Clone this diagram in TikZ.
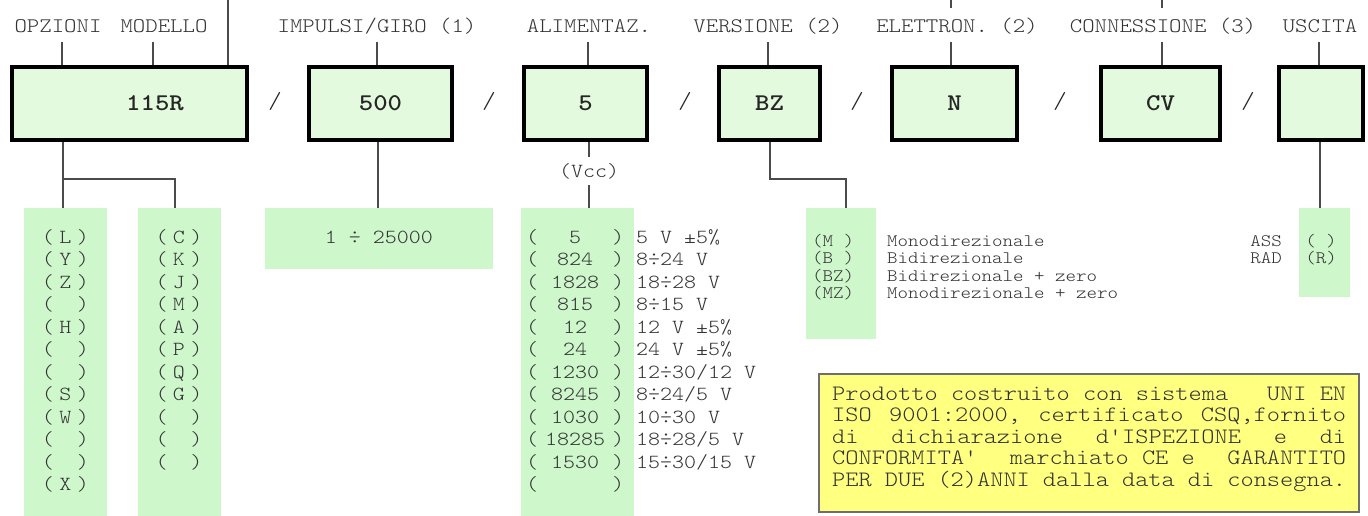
\documentclass[tikz,border=0pt]{standalone}
\usepackage{fontspec}
\newfontfamily\cour{lmmonolt10-regular}[Extension=.otf, BoldFont=lmmonolt10-bold, FakeStretch=1.143]
\definecolor{boxfill}{RGB}{227,250,222}
\definecolor{panelfill}{RGB}{206,247,203}
\definecolor{noteyel}{RGB}{255,255,128}
\definecolor{notebd}{RGB}{110,110,110}
\definecolor{txtgray}{RGB}{50,50,50}
\definecolor{linegray}{RGB}{75,75,75}
\newcommand\myfs[2]{\cour\fontsize{#1}{#2}\selectfont}
\begin{document}
\begin{tikzpicture}[x=1pt,y=-1pt,
  lbl/.style={font=\myfs{20.7}{20.7}, text=txtgray, inner sep=0pt, anchor=base},
  codebox/.style={draw=black, line width=4pt, fill=boxfill, minimum height=73pt, inner sep=0pt, font=\myfs{24}{24}\bfseries, text=black!85},
  slashtxt/.style={font=\myfs{23}{23}, text=black!85, inner sep=0pt},
  panel/.style={fill=panelfill, inner sep=0pt, anchor=north west},
  conn/.style={draw=linegray, line width=1.3pt},
  row/.style={font=\myfs{20}{20}, text=txtgray, inner sep=0pt},
  srow/.style={font=\myfs{17.5}{17.5}, text=txtgray, inner sep=0pt},
]
\useasboundingbox (0,0) rectangle (1368,516);
\fill[white] (0,0) rectangle (1368,516);

% ---- code boxes
\node[codebox, minimum width=235pt] (box1) at (129.5,103.5) {};
\node[font=\myfs{24}{24}\bfseries, text=black!85, inner sep=0pt] (box1t) at (155,103.5) {115R};
\node[codebox, minimum width=143pt] (box2) at (380.5,103.5) {500};
\node[codebox, minimum width=123pt] (box3) at (585.5,103.5) {5};
\node[codebox, minimum width=101pt] (box4) at (769.5,103.5) {BZ};
\node[codebox, minimum width=125pt] (box5) at (954.5,103.5) {N};
\node[codebox, minimum width=119pt] (box6) at (1160.5,103.5) {CV};
\node[codebox, minimum width=84pt] (box7) at (1321,103.5) {};

% ---- slashes
\foreach \x [count=\i] in {275,489,685,857,1060,1248}
  \node[slashtxt] (sl\i) at (\x,101) {/};

% ---- top labels
\node[lbl] (l1) at (58,33) {OPZIONI};
\node[lbl] (l2) at (164,33) {MODELLO};
\node[lbl] (l3) at (377,33) {IMPULSI/GIRO (1)};
\node[lbl] (l4) at (589,33) {ALIMENTAZ.};
\node[lbl] (l5) at (768,33) {VERSIONE (2)};
\node[lbl] (l6) at (957,33) {ELETTRON. (2)};
\node[lbl] (l7) at (1163,33) {CONNESSIONE (3)};
\node[lbl] (l8) at (1320,33) {USCITA};

% ---- label ticks
\coordinate (tk1) at (62,42);
\coordinate (tk2) at (153,42);
\coordinate (tk3) at (377,42);
\coordinate (tk4) at (588,42);
\coordinate (tk5) at (768,42);
\coordinate (tk6) at (951,42);
\coordinate (tk7) at (1162,42);
\coordinate (tk8) at (1319,42);
\draw[conn] (tk1) -- (tk1 |- box1.north);
\draw[conn] (tk2) -- (tk2 |- box1.north);
\draw[conn] (tk3) -- (tk3 |- box2.north);
\draw[conn] (tk4) -- (tk4 |- box3.north);
\draw[conn] (tk5) -- (tk5 |- box4.north);
\draw[conn] (tk6) -- (tk6 |- box5.north);
\draw[conn] (tk7) -- (tk7 |- box6.north);
\draw[conn] (tk8) -- (tk8 |- box7.north);

% ---- lines coming from above the picture
\coordinate (up1) at (228,0);
\coordinate (up2) at (951,0);
\coordinate (up2e) at (951,8);
\coordinate (up3) at (1162,0);
\coordinate (up3e) at (1162,8);
\draw[conn] (up1) -- (up1 |- box1.north);
\draw[conn] (up2) -- (up2e);
\draw[conn] (up3) -- (up3e);

% ---- panels
\node[panel, minimum width=83pt, minimum height=308pt] (p1) at (24,208) {};
\node[panel, minimum width=83pt, minimum height=308pt] (p2) at (138,208) {};
\node[panel, minimum width=228pt, minimum height=61pt] (p3) at (265,208) {};
\node[panel, minimum width=113pt, minimum height=308pt] (p4) at (521,208) {};
\node[panel, minimum width=70pt, minimum height=131pt] (p5) at (806,208) {};
\node[panel, minimum width=51pt, minimum height=89pt] (p7) at (1299,208) {};

% ---- connectors to panels
\coordinate (j1) at (63,179);
\coordinate (j2) at (175,179);
\draw[conn] (j1 |- box1.south) -- (j1 |- p1.north);
\draw[conn] (j1) -- (j2) -- (j2 |- p2.north);
\coordinate (j3) at (378,179);
\draw[conn] (j3 |- box2.south) -- (j3 |- p3.north);
\node[row, inner ysep=6pt] (vcc) at (589,171) {(Vcc)};
\draw[conn] (vcc.north |- box3.south) -- (vcc.north);
\draw[conn] (vcc.south) -- (vcc.south |- p4.north);
\coordinate (j4) at (770,179);
\coordinate (j5) at (846,179);
\draw[conn] (j4 |- box4.south) -- (j4) -- (j5) -- (j5 |- p5.north);
\coordinate (j7) at (1320,179);
\draw[conn] (j7 |- box7.south) -- (j7 |- p7.north);

% ---- panel 1 and 2 rows
\foreach \t [count=\i from 0] in {L,Y,Z,{},H,{},{},S,W,{},{},X}
  \node[row, anchor=base] (pa\i) at (65.5,{243+22.5*\i}) {(\makebox[23pt]{\t})};
\foreach \t [count=\i from 0] in {C,K,J,M,A,P,Q,G,{},{},{}}
  \node[row, anchor=base] (pb\i) at (179,{243+22.5*\i}) {(\makebox[23pt]{\t})};

% ---- panel 3
\node[row] (p3t) at (379,237) {1 ÷ 25000};

% ---- panel 4 rows
\foreach \v/\d [count=\i from 0] in {5/{5 V ±5\%},824/{8÷24 V},1828/{18÷28 V},815/{8÷15 V},12/{12 V ±5\%},24/{24 V ±5\%},1230/{12÷30/12 V},8245/{8÷24/5 V},1030/{10÷30 V},18285/{18÷28/5 V},1530/{15÷30/15 V},{}/{}}
  \node[row, anchor=base west] (pc\i) at (526,{243+22.5*\i}) {(\makebox[74pt]{\v})\ \d};

% ---- panel 5 rows
\foreach \v/\d [count=\i from 0] in {{(M )}/Monodirezionale,{(B )}/Bidirezionale,{(BZ)}/{Bidirezionale + zero},{(MZ)}/{Monodirezionale + zero}}
{
  \node[srow, anchor=base west] (pd\i) at (812,{246+17.5*\i}) {\v};
  \node[srow, anchor=base west] (pe\i) at (887,{246+17.5*\i}) {\d};
}

% ---- panel 7 rows
\node[srow, anchor=base] (pf0) at (1321,246) {( )};
\node[srow, anchor=base] (pf1) at (1321,263.5) {(R)};
\node[srow, anchor=base east] (pg0) at (1282,246) {ASS};
\node[srow, anchor=base east] (pg1) at (1282,263.5) {RAD};

% ---- note
\node[anchor=north west, draw=notebd, fill=noteyel, line width=1.5pt, minimum width=540pt, minimum height=138pt, inner sep=0pt] (note) at (818,373) {};
\begin{scope}[every node/.style={font=\myfs{22}{22}, text=txtgray, inner sep=0pt, anchor=base west}]
\node (n1) at (832,400) {\hbox to 514pt{Prodotto costruito con sistema\hfill\ UNI EN}};
\node (n2) at (832,421.5) {\hbox to 514pt{ISO\hfill 9001:2000,\hfill certificato\hfill CSQ,fornito}};
\node (n3) at (832,443) {\hbox to 514pt{di\hfill dichiarazione\hfill d'ISPEZIONE\hfill e\hfill di}};
\node (n4) at (832,464.5) {\hbox to 514pt{CONFORMITA'\hfill marchiato CE e\hfill GARANTITO}};
\node (n5) at (832,486) {\hbox to 514pt{PER DUE (2)ANNI dalla data di consegna.\hfill}};
\end{scope}
\end{tikzpicture}
\end{document}
